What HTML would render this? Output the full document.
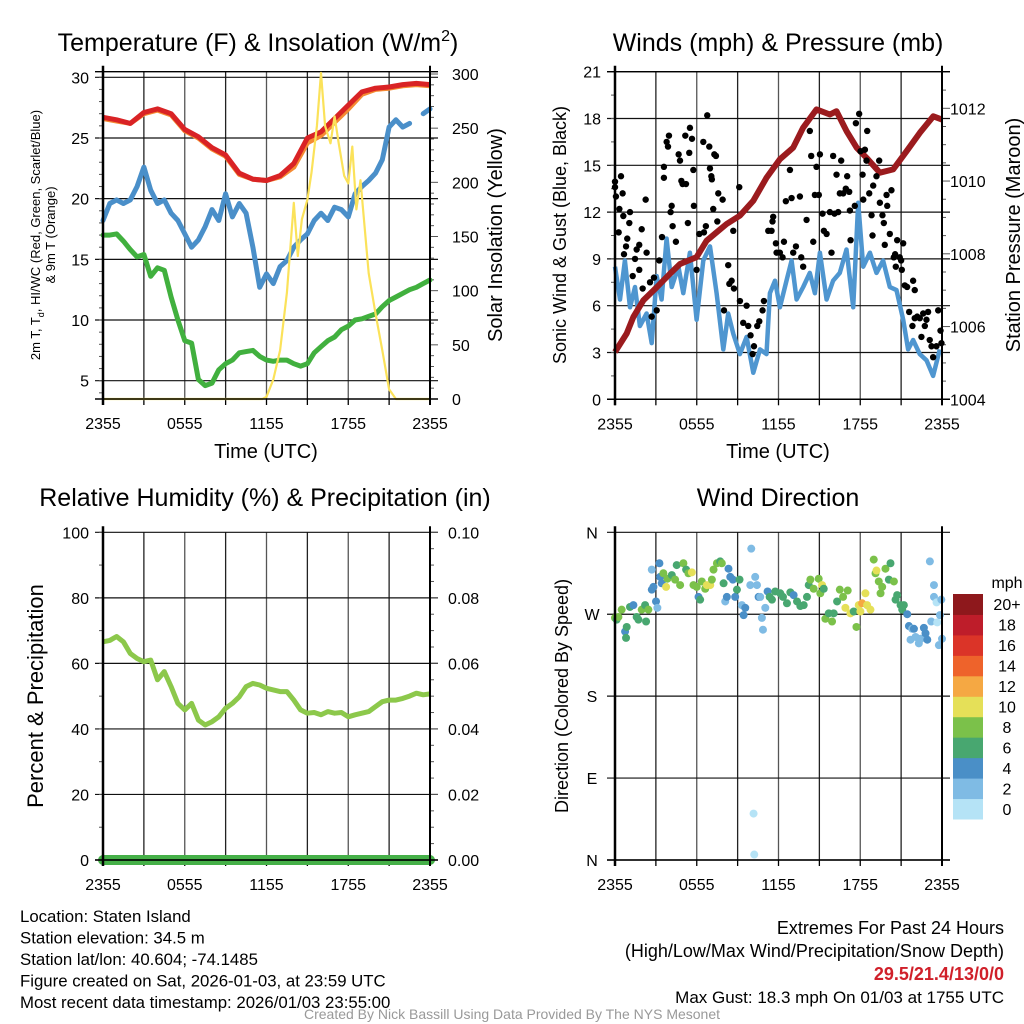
<!DOCTYPE html>
<html><head><meta charset="utf-8"><style>
html,body{margin:0;padding:0;background:#fff;}
svg{display:block;font-family:"Liberation Sans",Arial,sans-serif;}
</style></head><body>
<svg id="c" width="1024" height="1024" viewBox="0 0 1024 1024"></svg>
<script>
// ---------- DATA ----------
const hrs30 = [0,0.5,1,1.5,2,2.5,3,3.5,4,4.5,5,5.5,6,6.5,7,7.5,8,8.5,9,9.5,10,10.5,11,11.5,12,12.5,13,13.5,14,14.5,15,15.5,16,16.5,17,17.5,18,18.5,19,19.5,20,20.5,21,21.5,22,22.5,23,23.5,24];
const tempHrs = [0,1,2,3,4,5,6,7,8,9,10,11,12,13,14,15,16,17,18,19,20,21,22,23,24];
const temp2m = [26.7,26.5,26.2,27.1,27.4,27.0,25.7,25.1,24.2,23.6,22.1,21.6,21.5,21.9,22.9,25.0,25.5,26.6,27.7,28.8,29.1,29.2,29.4,29.5,29.4];
const temp9m = [26.6,26.4,26.2,27.0,27.3,26.9,25.6,25.0,24.1,23.5,22.0,21.6,21.5,21.8,22.6,24.6,25.2,26.3,27.4,28.6,29.0,29.1,29.3,29.4,29.3];
const windChill = [18.2,19.6,19.9,19.6,19.9,21.0,22.6,20.7,19.6,19.9,18.8,18.2,17.1,16.0,16.6,17.7,19.1,18.2,20.4,18.5,19.6,18.8,16.0,12.7,13.8,13.0,14.4,14.9,16.0,16.6,17.1,18.2,18.8,18.2,19.3,19.1,18.5,20.4,21.0,21.5,22.1,23.2,25.9,26.5,25.9,26.2,null,27.0,27.4];
const dewpoint = [17.0,17.0,17.1,16.5,15.8,15.2,15.4,13.6,14.3,14.1,11.9,10.0,8.3,8.1,5.1,4.6,4.8,5.9,6.4,6.7,7.3,7.4,7.5,7.0,6.7,6.6,6.7,6.7,6.4,6.2,6.4,7.3,7.8,8.3,8.6,9.2,9.5,10.0,10.1,10.3,10.5,11.1,11.6,11.9,12.2,12.5,12.7,13.0,13.3];
const solarHrs = [0,11.7,12,12.5,13,13.5,14,14.3,14.6,15,15.3,15.7,16,16.3,16.7,17,17.3,17.7,18,18.3,18.6,18.9,19.2,19.5,20,20.5,21,21.5,24];
const solarVals = [0,0,2,18,45,98,181,132,166,184,209,252,301,252,236,261,236,206,199,233,175,202,159,116,79,45,9,0,0];
const rhVals = [66.6,67,68.2,66.6,63,61.5,60.5,61,55,57.5,52.9,47.8,45.8,47.8,42.7,41.2,42.2,43.7,46.3,47.8,49.8,52.9,53.9,53.4,52.4,51.9,51.4,51.4,48.8,45.8,44.8,45,44.3,45.3,44.8,45,43.7,44.3,44.8,45.3,46.8,48.3,48.8,48.8,49.3,50,50.9,50.4,50.7];
const precipVals = [0,0,0,0,0,0,0,0,0,0,0,0,0,0,0,0,0,0,0,0,0,0,0,0,0,0,0,0,0,0,0,0,0,0,0,0,0,0,0,0,0,0,0,0,0,0,0,0,0];
const presHrs = [0,0.86,1.34,2.08,3.06,4.03,4.77,5.99,6.72,7.46,8.19,9.17,10.15,11.12,12.1,13.08,13.8,14.79,15.77,16.26,17.0,17.73,18.46,19.44,20.42,21.4,22.38,23.36,24];
const presVals = [1005.3,1005.81,1006.26,1006.72,1007.08,1007.45,1007.72,1007.91,1008.36,1008.59,1008.82,1009.05,1009.46,1010.09,1010.6,1010.92,1011.46,1011.97,1011.83,1011.92,1011.37,1010.92,1010.64,1010.23,1010.32,1010.82,1011.33,1011.78,1011.69];
const windHrs = [0,0.37,0.73,1.1,1.47,1.83,2.32,2.69,3.06,3.42,3.79,4.16,4.65,5.01,5.5,5.99,6.48,6.97,7.46,7.95,8.31,8.68,9.17,9.66,10.15,10.64,11.12,11.37,11.74,12.1,12.59,12.96,13.33,13.81,14.3,14.67,15.04,15.53,16.01,16.5,16.99,17.48,17.85,18.22,18.71,19.19,19.68,20.17,20.66,21.15,21.51,21.88,22.37,22.86,23.35,23.84];
const windVals = [8.5,6.4,8.9,5.9,7.2,4.7,5.5,3.6,7.9,6.4,10.3,7.2,8.5,6.8,9.4,5.1,8.9,9.8,6.8,3.2,5.5,4.2,2.9,4.0,1.7,3.2,2.9,6.8,7.6,5.9,7.6,8.9,6.4,7.2,8.1,6.8,9.4,6.4,7.6,8.1,9.6,5.9,12.6,8.5,9.4,8.1,8.9,7.2,7.0,5.1,3.2,3.8,2.9,2.5,1.5,3.2];
const gustHrs = [0,0,0.07,0.44,0.56,0.32,0.27,0.61,0.9,0.81,0.66,1.1,1.05,1.47,1.59,1.78,1.3,1.78,1.96,2.03,2.32,2.25,2.57,2.69,2.86,3.06,3.25,3.45,3.59,3.59,3.79,3.89,3.96,4.08,4.16,4.23,4.47,4.67,4.77,4.87,4.96,5.21,5.16,5.35,5.45,5.5,5.65,5.75,5.79,5.99,6.19,6.48,6.53,6.67,6.77,6.92,6.97,7.07,7.11,7.29,7.41,7.51,7.21,7.58,7.9,8.0,8.31,8.39,8.56,8.68,8.73,9.12,9.17,9.41,9.66,9.78,9.95,10.1,10.2,10.44,10.59,10.83,10.93,11.25,11.49,11.56,11.61,11.81,11.86,12.1,12.3,12.4,12.54,12.84,12.96,13.08,13.28,13.57,13.67,13.81,14.06,14.3,14.4,14.55,14.67,14.79,15.04,14.96,15.23,15.33,15.53,15.77,15.89,16.01,16.11,16.26,16.38,16.5,16.6,16.75,16.94,17.04,17.19,17.24,17.29,17.6,17.68,17.92,18.02,18.17,18.22,18.34,18.46,18.51,18.66,18.83,18.9,18.95,19.19,19.39,19.44,19.63,19.73,19.8,19.93,19.98,20.17,20.29,20.46,20.56,20.61,20.71,20.9,21.0,21.05,21.15,21.27,21.44,21.88,22.0,21.59,21.83,22.0,22.18,22.37,22.49,22.62,22.74,22.86,22.98,23.1,23.23,23.35,23.59,23.72,23.89,23.96];
const gustVals = [13.95,13.6,13.0,14.3,13.2,12.2,10.7,11.75,10.3,9.8,9.3,12.0,11.3,9.0,9.6,9.9,7.9,8.3,10.9,7.1,9.4,12.8,7.5,5.3,7.8,5.7,8.9,10.4,14.2,14.9,16.5,16.2,16.9,12.0,12.4,11.1,10.1,15.7,15.3,14.0,13.8,13.8,16.9,11.3,15.8,17.4,16.7,14.7,12.4,8.3,10.6,16.5,10.7,11.1,18.2,16.2,14.8,14.3,14.1,15.7,15.6,11.4,12.2,13.2,12.8,5.7,8.6,7.4,7.6,10.8,7.1,13.6,6.3,4.9,6.0,4.7,4.1,2.9,3.4,4.7,5.0,5.7,6.3,10.8,10.8,11.4,11.7,10.0,9.4,9.4,9.1,10.1,12.7,14.7,12.9,9.4,9.8,13.0,9.1,8.5,11.5,17.2,15.6,10.1,13.1,14.9,15.7,13.1,11.9,10.8,10.6,12.0,9.4,15.6,11.9,14.4,12.0,13.2,15.3,13.2,13.5,14.3,13.3,12.1,10.2,12.4,17.7,18.3,15.9,14.4,12.8,16.0,15.3,17.2,13.2,11.8,10.5,13.7,14.3,15.3,12.6,11.8,11.3,9.9,13.1,12.4,10.6,13.4,9.1,9.3,8.5,10.2,9.1,8.9,8.3,10.0,7.3,7.2,7.6,7.0,5.6,4.7,5.2,5.3,5.2,4.0,5.5,4.7,5.1,5.6,3.8,3.4,2.7,3.4,5.7,4.4,3.6];
const dirHrs = [0,0.12,0.25,0.49,0.74,0.81,0.86,1.1,1.35,1.59,1.72,1.96,2.21,2.28,2.45,2.7,2.7,2.82,3.01,3.11,3.26,3.31,3.43,3.55,3.75,3.85,4.17,4.41,4.53,4.78,5.02,5.22,5.39,5.64,5.76,6.0,6.13,6.25,6.37,6.62,6.74,6.99,7.11,7.23,7.48,7.72,7.84,7.97,8.09,8.21,8.33,8.46,8.65,8.82,8.95,9.14,9.31,9.44,9.56,9.93,10.0,10.17,10.22,10.29,10.42,10.54,10.66,10.78,10.86,11.03,11.2,11.35,11.52,11.76,12.13,12.33,12.62,12.87,13.11,13.36,13.6,13.85,14.09,14.22,14.34,14.58,14.95,15.07,15.2,15.32,15.44,15.69,15.93,16.05,16.3,16.5,16.74,16.91,17.08,17.28,17.52,17.72,17.89,18.01,18.14,18.38,18.5,18.75,18.99,19.12,19.19,19.36,19.49,19.61,19.85,20.1,20.22,20.47,20.59,20.71,20.96,21.08,21.2,21.45,21.57,21.69,21.81,21.94,22.06,22.3,22.43,22.67,22.79,22.92,23.11,23.21,23.41,23.41,23.6,23.65,23.77,23.85,23.95,24];
const dirVals = [266,264,267,275,251,244,256,278,280,267,264,275,280,262,275,319,297,300,284,277,326,311,304,315,300,309,313,308,324,302,326,319,315,316,302,300,289,286,306,298,302,302,308,319,326,328,326,304,284,289,320,311,308,289,297,308,280,269,277,302,342,51,6,311,302,289,289,266,253,277,295,289,286,295,293,289,282,294,291,284,279,280,289,302,308,298,309,293,302,298,265,271,262,271,284,297,289,277,296,271,273,256,280,273,282,293,280,275,330,315,318,306,293,300,320,308,326,306,286,291,280,275,280,270,257,242,254,254,245,238,243,255,249,242,328,262,302,289,283,261,236,269,286,243];
const dirSpeed = [9,7,9,9,5,7,7,7,5,7,7,9,7,7,9,3,5,5,5,3,5,5,5,9,11,9,7,9,7,9,9,7,9,11,9,9,5,7,9,9,11,11,9,9,9,7,9,7,3,5,5,5,5,5,7,7,3,5,5,3,3,1,1,3,3,5,3,3,3,3,5,7,7,7,7,7,7,7,5,7,7,7,7,7,9,9,9,9,11,7,9,7,9,7,7,9,9,11,9,11,7,9,11,11,13,11,11,11,9,9,11,9,9,9,9,7,7,9,7,7,7,7,7,5,5,3,3,5,3,3,3,5,5,5,3,3,3,3,1,1,3,3,3,3,3];
const speedBins = ['0','2','4','6','8','10','12','14','16','18','20+'];
const binColors = ['#b5e3f6','#7fbbe4','#4a8fc7','#48a770','#7bc14a','#e5e058','#f5a843','#ee632b','#db3428','#be1d2a','#8e181c'];

// ---------- HELPERS ----------
const NS='http://www.w3.org/2000/svg';
const svg=document.getElementById('c');
function mk(tag,attrs,parent){const e=document.createElementNS(NS,tag);for(const k in attrs)e.setAttribute(k,attrs[k]);(parent||svg).appendChild(e);return e;}
function txt(s,x,y,size,anchor,extra){const e=mk('text',Object.assign({x:x,y:y,'font-size':size,'text-anchor':anchor||'middle',fill:'#000'},extra||{}));e.textContent=s;return e;}
function scale(d0,d1,r0,r1){return v=>r0+(v-d0)*(r1-r0)/(d1-d0);}
function pathFrom(xs,ys,fx,fy){let d='',pen=false;for(let i=0;i<xs.length;i++){if(ys[i]==null){pen=false;continue;}d+=(pen?'L':'M')+fx(xs[i]).toFixed(1)+','+fy(ys[i]).toFixed(1);pen=true;}return d;}
const xLabels=['2355','0555','1155','1755','2355'];

function frame(L,R,T,B,gridYs,fy,leftTicks,leftFmt,minorLeft){
  const fx=scale(0,24,L,R);
  for(let h=3;h<24;h+=3){const g=mk('line',{x1:fx(h),x2:fx(h),y1:T,y2:B,stroke:(h%6===0)?'#555':'#222','stroke-width':1.3});
    
    }
  gridYs.forEach(v=>{const g=mk('line',{x1:L-8,x2:R+8,y1:fy(v),y2:fy(v),stroke:'#111','stroke-width':1.2});
    
    });
  minorLeft.forEach(v=>{const t=mk('line',{x1:L-4,x2:L,y1:fy(v),y2:fy(v),stroke:'#555','stroke-width':1});
    
    });
  leftTicks.forEach(v=>{const t=txt(leftFmt(v),L-14,fy(v)+6,16,'end');
    
    });
  for(let h=0;h<=24;h+=3){const t=mk('line',{x1:fx(h),x2:fx(h),y1:B,y2:B+6,stroke:'#000','stroke-width':1.3});
    
    }
  xLabels.forEach((s,i)=>{const t=txt(s,fx(i*6),B+30,16,'middle');
    
    });
  return fx;
}
function borders(L,R,T,B){
  const a=mk('line',{x1:L,x2:L,y1:T-6,y2:B+6,stroke:'#000','stroke-width':2.5});
  
  
  const b=mk('line',{x1:R,x2:R,y1:T-6,y2:B+6,stroke:'#000','stroke-width':2});
  
  
  const c=mk('line',{x1:L-8,x2:R+8,y1:B,y2:B,stroke:'#000','stroke-width':1.5});
  
  
}

// ---------- PANEL 1 : Temperature ----------
(function(){
  const L=103,R=430,T=71.7,B=399;
  const fy=scale(5,30,380.7,77.3);
  const fs=scale(0,300,399,74);
  const minor=[];for(let v=4;v<=30;v++)minor.push(v);
  const fx=frame(L,R,T,B,[5,10,15,20,25,30],fy,[5,10,15,20,25,30],v=>String(v),minor);
  const top=mk('line',{x1:L-8,x2:R+8,y1:T,y2:T,stroke:'#000','stroke-width':1.3});
  
  
  for(let v=0;v<=300;v+=10){const t=mk('line',{x1:R,x2:R+(v%50===0?8:4),y1:fs(v),y2:fs(v),stroke:'#555','stroke-width':1});
    
    }
  for(let v=0;v<=300;v+=50){const t=txt(String(v),R+22,fs(v)+6,16,'start');
    
    }
  const dp=mk('path',{d:pathFrom(hrs30,dewpoint,fx,fy),fill:'none',stroke:'#41b03e','stroke-width':5,'stroke-linejoin':'round','stroke-linecap':'round'});
  
  
  const wc=mk('path',{d:pathFrom(hrs30,windChill,fx,fy),fill:'none',stroke:'#4a8fc9','stroke-width':5,'stroke-linejoin':'round','stroke-linecap':'round'});
  
  
  const t9=mk('path',{d:pathFrom(tempHrs,temp9m,fx,fy),fill:'none',stroke:'#f58a32','stroke-width':5,'stroke-linejoin':'round'});
  
  
  const t2=mk('path',{d:pathFrom(tempHrs,temp2m,fx,fy),fill:'none',stroke:'#d92325','stroke-width':5,'stroke-linejoin':'round'});
  
  
  const so=mk('path',{d:pathFrom(solarHrs,solarVals,fx,fs),fill:'none',stroke:'#fbe25a','stroke-width':2.2,'stroke-linejoin':'round'});
  
  
  borders(L,R,T,B);
  const ti=txt('Temperature (F) & Insolation (W/m',258,51,25,'middle');
  const sup=mk('tspan',{dy:-10,'font-size':16},ti);sup.textContent='2';
  const cl=mk('tspan',{dy:10},ti);cl.textContent=')';
  
  
  const yl=txt('',0,0,13,'middle',{transform:'translate(40,235) rotate(-90)'});
  const l1=mk('tspan',{x:0,dy:0},yl);l1.textContent='2m T, T';
  const sb=mk('tspan',{dy:4,'font-size':9},yl);sb.textContent='d';
  const l1b=mk('tspan',{dy:-4},yl);l1b.textContent=', HI/WC (Red, Green, Scarlet/Blue)';
  const l2=mk('tspan',{x:0,dy:15},yl);l2.textContent='& 9m T (Orange)';
  
  
  const yr=txt('Solar Insolation (Yellow)',0,0,20,'middle',{transform:'translate(502,235) rotate(-90)'});
  
  
  const xt=txt('Time (UTC)',266,458,20,'middle');
  
  
})();

// ---------- PANEL 2 : Winds ----------
(function(){
  const L=615,R=942,T=71.7,B=399.3;
  const fy=scale(0,21,B,T);
  const fp=scale(1004,1012,399.3,108.3);
  const minor=[];for(let v=0;v<=21;v+=1.5)minor.push(v);
  const fx=frame(L,R,T,B,[3,6,9,12,15,18,21],fy,[0,3,6,9,12,15,18,21],v=>String(v),minor);
  for(let v=1004;v<=1013;v+=0.5){const t=mk('line',{x1:R,x2:R+(v%2===0?8:4),y1:fp(v),y2:fp(v),stroke:'#555','stroke-width':1});
    
    }
  for(let v=1004;v<=1012;v+=2){const t=txt(String(v),R+8,fp(v)+6,16,'start');
    
    }
  const w=mk('path',{d:pathFrom(windHrs,windVals,fx,fy),fill:'none',stroke:'#4f96d0','stroke-width':4.5,'stroke-linejoin':'round'});
  
  
  const p=mk('path',{d:pathFrom(presHrs,presVals,fx,fp),fill:'none',stroke:'#9b1b1e','stroke-width':6,'stroke-linejoin':'round'});
  
  
  gustHrs.forEach((h,i)=>{const c=mk('circle',{cx:fx(h),cy:fy(gustVals[i]),r:3.2,fill:'#000'});
    
    });
  borders(L,R,T,B);
  const top=mk('line',{x1:L-8,x2:R+8,y1:T,y2:T,stroke:'#000','stroke-width':1.3});
  
  
  const ti=txt('Winds (mph) & Pressure (mb)',778,51,25,'middle');
  
  
  const yl=txt('Sonic Wind & Gust (Blue, Black)',0,0,18,'middle',{transform:'translate(566,235) rotate(-90)'});
  
  
  const yr=txt('Station Pressure (Maroon)',0,0,20,'middle',{transform:'translate(1020,235) rotate(-90)'});
  
  
  const xt=txt('Time (UTC)',778,458,20,'middle');
  
  
})();

// ---------- PANEL 3 : RH ----------
(function(){
  const L=103,R=430,T=532.3,B=860;
  const fy=scale(0,100,B,T);
  const fq=scale(0,0.1,B,T);
  const minor=[];for(let v=0;v<=100;v+=10)minor.push(v);
  const fx=frame(L,R,T,B,[20,40,60,80,100],fy,[0,20,40,60,80,100],v=>String(v),minor);
  for(let v=0;v<=100;v+=5){const t=mk('line',{x1:R,x2:R+(v%20===0?8:4),y1:fy(v),y2:fy(v),stroke:'#555','stroke-width':1});
    
    }
  [0,0.02,0.04,0.06,0.08,0.1].forEach(v=>{const t=txt(v.toFixed(2),R+18,fq(v)+6,16,'start');
    
    });
  const rh=mk('path',{d:pathFrom(hrs30,rhVals,fx,fy),fill:'none',stroke:'#8cc84b','stroke-width':5,'stroke-linejoin':'round'});
  
  
  const pr=mk('path',{d:pathFrom(hrs30,precipVals,fx,fq),fill:'none',stroke:'#45b048','stroke-width':10,'stroke-linecap':'round'});
  
  
  borders(L,R,T,B);
  const bl=mk('line',{x1:L-8,x2:R+8,y1:B,y2:B,stroke:'#000','stroke-width':1.2});
  
  
  const ti=txt('Relative Humidity (%) & Precipitation (in)',265,506,25,'middle');
  
  
  const yl=txt('Percent & Precipitation',0,0,22,'middle',{transform:'translate(43,696) rotate(-90)'});
  
  
})();

// ---------- PANEL 4 : Wind direction ----------
(function(){
  const L=615,R=942,T=532.3,B=860;
  const fy=scale(0,360,B,T);
  const fx=frame(L,R,T,B,[0,90,180,270,360],fy,[],v=>'',[]);
  ['N','E','S','W','N'].forEach((s,i)=>{const t=txt(s,592,fy(i*90)+6,16,'middle');
    
    });
  function col(sp){let i=Math.floor(sp/2);if(i>10)i=10;if(i<0)i=0;return binColors[i];}
  dirHrs.forEach((h,i)=>{const c=mk('circle',{cx:fx(h),cy:fy(dirVals[i]),r:4,fill:col(dirSpeed[i])});
    
    });
  borders(L,R,T,B);
  const ti=txt('Wind Direction',778,506,25,'middle');
  
  
  const yl=txt('Direction (Colored By Speed)',0,0,18,'middle',{transform:'translate(568,696) rotate(-90)'});
  
  
  const cbT=594,cbB=819,h=(cbB-cbT)/speedBins.length;
  speedBins.forEach((s,i)=>{const y=cbB-(i+1)*h;
    const r=mk('rect',{x:953,y:y,width:30,height:h+0.5,fill:binColors[i]});
    
    
    const t=txt(s,1007,y+h/2+6,16,'middle');
    
    });
  const u=txt('mph',1007,588,16,'middle');
  
  
})();

// ---------- FOOTER ----------
(function(){
  const left=['Location: Staten Island','Station elevation: 34.5 m','Station lat/lon: 40.604; -74.1485','Figure created on Sat, 2026-01-03, at 23:59 UTC','Most recent data timestamp: 2026/01/03 23:55:00'];
  left.forEach((s,i)=>{const t=txt(s,20,922+i*21.5,16.8,'start');
    
    });
  const r1=txt('Extremes For Past 24 Hours',1004,934,18,'end');
  
  
  const r2=txt('(High/Low/Max Wind/Precipitation/Snow Depth)',1004,957,18,'end');
  
  
  const r3=txt('29.5/21.4/13/0/0',1004,980,18,'end',{fill:'#d0202a','font-weight':'bold'});
  
  
  const r4=txt('Max Gust: 18.3 mph On 01/03 at 1755 UTC',1004,1003,17,'end');
  
  
  const cr=txt('Created By Nick Bassill Using Data Provided By The NYS Mesonet',512,1019,14,'middle',{fill:'#999'});
  
  
})();
</script>
</body></html>
